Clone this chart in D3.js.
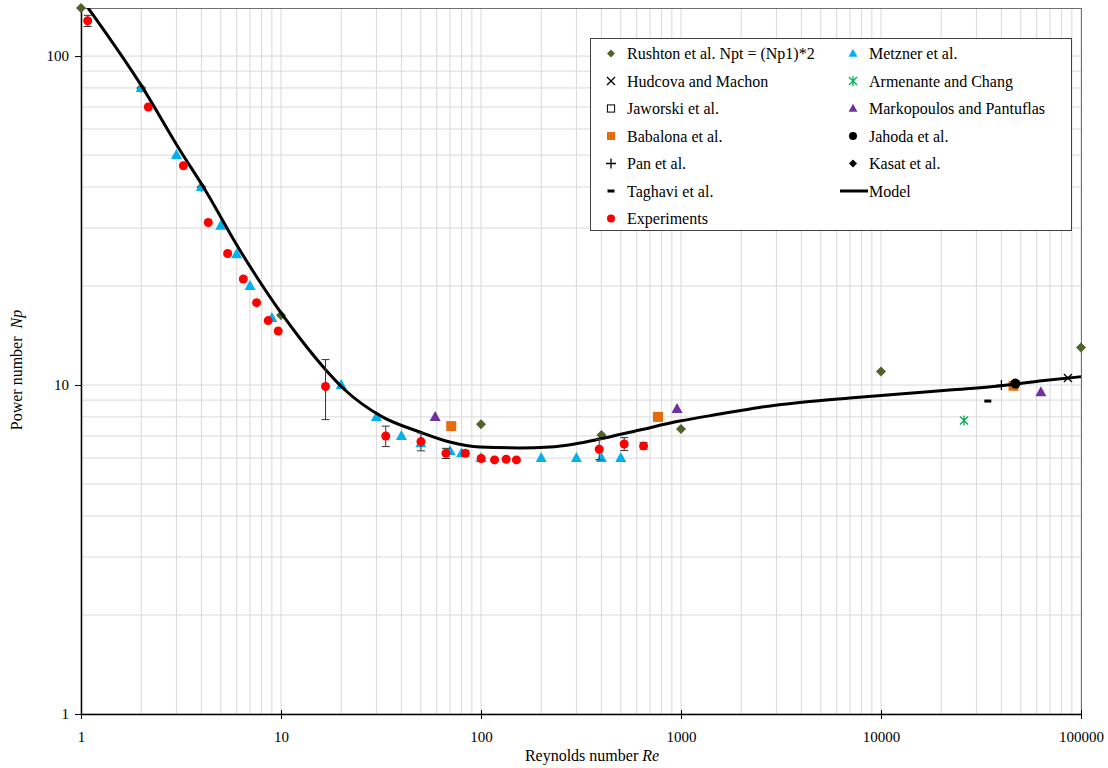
<!DOCTYPE html>
<html><head><meta charset="utf-8">
<script src="https://cdn.jsdelivr.net/npm/d3@7"></script>
<style>
body{margin:0;background:#fff;}
svg text{font-family:"Liberation Serif","Times New Roman","DejaVu Serif",serif;fill:#000;}
</style></head>
<body><svg id="c" width="1108" height="768"></svg>
<script>
// ---- data ----
const rushtonRe = [1, 2, 4, 10, 100, 400, 1000, 10000, 100000];
const rushtonNp = [140, 80, 40, 16.3, 7.6, 7.05, 7.35, 11, 13];
const metznerRe = [2, 3, 4, 5, 6, 7, 9, 20, 30, 40, 50, 70, 80, 100, 200, 300, 400, 500];
const metznerNp = [80, 50, 40, 30.5, 25, 20, 16, 10, 8, 7, 6.65, 6.3, 6.2, 6, 6, 6, 6, 6];
const hudcovaRe = [86000];
const hudcovaNp = [10.5];
const armenanteRe = [26000];
const armenanteNp = [7.8];
const jaworskiRe = [];
const jaworskiNp = [];
const markopoulosRe = [59, 955, 63000];
const markopoulosNp = [8, 8.45, 9.5];
const babalonaRe = [71, 767, 46000];
const babalonaNp = [7.5, 8, 9.95];
const jahodaRe = [47000];
const jahodaNp = [10.1];
const panRe = [40000];
const panNp = [10];
const kasatRe = [];
const kasatNp = [];
const taghaviRe = [34200];
const taghaviNp = [8.94];
const modelRe = [1, 2.04, 3.12, 4.12, 6.23, 10.2, 12.4, 16.8, 20.9, 32.3, 49.4, 69.8, 98.6, 156, 221, 294, 392, 622, 985, 1560, 2470, 3920, 6970, 12400, 22000, 39100, 62000, 100000];
const modelNp = [150, 79.9, 51.8, 39.7, 25.7, 16.3, 13.9, 11.1, 9.66, 7.99, 7.2, 6.71, 6.48, 6.44, 6.48, 6.62, 6.85, 7.3, 7.77, 8.16, 8.55, 8.85, 9.13, 9.39, 9.66, 9.93, 10.28, 10.6];
const expRe = [1.08, 2.17, 3.25, 4.33, 5.41, 6.48, 7.55, 8.63, 9.68, 16.7, 33.4, 50.1, 66.8, 83.5, 100.2, 116.9, 133.6, 150.3, 390, 520, 650];
const expNp = [128, 70, 46.4, 31.2, 25.1, 21, 17.8, 15.7, 14.6, 9.9, 7.0, 6.73, 6.2, 6.2, 5.98, 5.92, 5.95, 5.92, 6.38, 6.62, 6.53];
const expErr = [5, 0, 0, 0, 0, 0, 0, 0, 0, 2.05, 0.5, 0.42, 0.22, 0.12, 0, 0, 0, 0, 0.45, 0.3, 0.15];
const xTickLabels = ["1", "10", "100", "1000", "10000", "100000"];
const yTickLabels = ["1", "10", "100"];
const legendNames = ["Rushton et al. Npt = (Np1)*2", "Metzner et al.", "Hudcova and Machon", "Armenante and Chang",
  "Jaworski et al.", "Markopoulos and Pantuflas", "Babalona et al.", "Jahoda et al.", "Pan et al.", "Kasat et al.",
  "Taghavi et al.", "Model", "Experiments"];

// ---- chart ----
const FONT = "'Liberation Serif', 'Times New Roman', 'DejaVu Serif', serif";
const svg = d3.select("#c");
const L = 81, R = 1081, T = 8, B = 714;
const x = d3.scaleLog().domain([1, 1e5]).range([L, R]);
const y = d3.scaleLog().domain([1, 140]).range([B, T]);

const xGrid = [], yGrid = [];
for (let d = 1; d < 1e5; d *= 10) for (let k = 1; k <= 9; k++) xGrid.push(k * d);
xGrid.push(1e5);
for (let d = 1; d < 100; d *= 10) for (let k = 1; k <= 9; k++) yGrid.push(k * d);
yGrid.push(100);

const g = svg.append("g");
g.selectAll(".gx").data(xGrid).join("line")
  .attr("x1", d => x(d)).attr("x2", d => x(d)).attr("y1", T).attr("y2", B)
  .attr("stroke", "#d9d9d9").attr("stroke-width", 1);
g.selectAll(".gy").data(yGrid).join("line")
  .attr("x1", L).attr("x2", R).attr("y1", d => y(d)).attr("y2", d => y(d))
  .attr("stroke", "#d9d9d9").attr("stroke-width", 1);

// plot border top/right
g.append("line").attr("x1", L).attr("x2", R).attr("y1", T + 0.5).attr("y2", T + 0.5).attr("stroke", "#6f6f6f");
g.append("line").attr("x1", R + 0.5).attr("x2", R + 0.5).attr("y1", T).attr("y2", B).attr("stroke", "#6f6f6f");

// axes
const xAxis = d3.axisBottom(x).tickValues([1, 10, 100, 1000, 1e4, 1e5])
  .tickFormat((d, i) => xTickLabels[i]).tickSizeInner(5).tickSizeOuter(0).tickPadding(12);
const yAxis = d3.axisLeft(y).tickValues([1, 10, 100])
  .tickFormat((d, i) => yTickLabels[i]).tickSizeInner(6).tickSizeOuter(0).tickPadding(6);
const gx = svg.append("g").attr("transform", `translate(0,${B})`).call(xAxis);
const gy = svg.append("g").attr("transform", `translate(${L},0)`).call(yAxis);
[gx, gy].forEach(a => {
  a.attr("font-family", FONT);
  a.select(".domain").attr("stroke", "#000").attr("stroke-width", 1.5);
  a.selectAll(".tick line").attr("stroke", "#000");
  a.selectAll(".tick text").attr("font-family", FONT).attr("font-size", 15).attr("fill", "#000");
});
gx.selectAll(".tick line").attr("y1", -4);

// titles
const xt = svg.append("text").attr("x", 592).attr("y", 761).attr("text-anchor", "middle")
  .attr("font-family", FONT).attr("font-size", 16);
xt.append("tspan").text("Reynolds number ");
xt.append("tspan").attr("font-style", "italic").text("Re");
const yt = svg.append("text").attr("transform", "translate(22,370) rotate(-90)").attr("text-anchor", "middle")
  .attr("font-family", FONT).attr("font-size", 16);
yt.append("tspan").text("Power number\u00a0\u00a0");
yt.append("tspan").attr("font-style", "italic").text("Np");

// markers
function marker(sel, type, color, s) {
  s = s || 1;
  if (type === "diamond") sel.append("path").attr("d", `M0,${-5*s}L${5*s},0L0,${5*s}L${-5*s},0Z`).attr("fill", color);
  else if (type === "triangle") sel.append("path").attr("d", `M0,${-6*s}L${5.5*s},${4*s}L${-5.5*s},${4*s}Z`).attr("fill", color);
  else if (type === "circle") sel.append("circle").attr("r", 5 * s).attr("fill", color);
  else if (type === "square") sel.append("rect").attr("x", -5*s).attr("y", -5*s).attr("width", 10*s).attr("height", 10*s).attr("fill", color);
  else if (type === "osquare") sel.append("rect").attr("x", -4.5*s).attr("y", -4.5*s).attr("width", 9*s).attr("height", 9*s).attr("fill", "#fff").attr("stroke", color);
  else if (type === "x") sel.append("path").attr("d", `M-4,-4L4,4M-4,4L4,-4`).attr("stroke", color).attr("stroke-width", 1.3);
  else if (type === "plus") sel.append("path").attr("d", `M-5,0L5,0M0,-5L0,5`).attr("stroke", color).attr("stroke-width", 1.3);
  else if (type === "dash") sel.append("rect").attr("x", -3.5).attr("y", -1.5).attr("width", 7).attr("height", 3).attr("fill", color);
  else if (type === "star") sel.append("path").attr("d", `M-4,-4L4,4M-4,4L4,-4M0,-5L0,5`).attr("stroke", color).attr("stroke-width", 1.3);
}

const series = [
  {re: rushtonRe, np: rushtonNp, type: "diamond", color: "#4f6228"},
  {re: metznerRe, np: metznerNp, type: "triangle", color: "#00b0f0"},
  {re: hudcovaRe, np: hudcovaNp, type: "x", color: "#000"},
  {re: armenanteRe, np: armenanteNp, type: "star", color: "#00b050"},
  {re: jaworskiRe, np: jaworskiNp, type: "osquare", color: "#000"},
  {re: markopoulosRe, np: markopoulosNp, type: "triangle", color: "#7030a0"},
  {re: babalonaRe, np: babalonaNp, type: "square", color: "#e46c0a"},
  {re: jahodaRe, np: jahodaNp, type: "circle", color: "#000"},
  {re: panRe, np: panNp, type: "plus", color: "#000"},
  {re: kasatRe, np: kasatNp, type: "diamond", color: "#000"},
  {re: taghaviRe, np: taghaviNp, type: "dash", color: "#000"}
];

svg.append("defs").append("clipPath").attr("id", "clip").append("rect")
  .attr("x", L).attr("y", T).attr("width", R - L + 1).attr("height", B - T);

series.forEach(s => {
  s.re.forEach((r, i) => {
    const m = svg.append("g").attr("transform", `translate(${x(r)},${y(s.np[i])})`);
    marker(m, s.type, s.color);
  });
});

// model line
const line = d3.line().x(d => x(d[0])).y(d => y(d[1])).curve(d3.curveMonotoneX);
svg.append("path").datum(modelRe.map((r, i) => [r, modelNp[i]]))
  .attr("d", line).attr("fill", "none").attr("stroke", "#000").attr("stroke-width", 3)
  .attr("clip-path", "url(#clip)");

// experiments with error bars
expRe.forEach((r, i) => {
  if (expErr[i] > 0) {
    const cx = x(r), y1 = y(expNp[i] + expErr[i]), y2 = y(expNp[i] - expErr[i]);
    svg.append("line").attr("x1", cx).attr("x2", cx).attr("y1", y1).attr("y2", y2).attr("stroke", "#333").attr("stroke-width", 1);
    svg.append("line").attr("x1", cx - 4).attr("x2", cx + 4).attr("y1", y1).attr("y2", y1).attr("stroke", "#333").attr("stroke-width", 1);
    svg.append("line").attr("x1", cx - 4).attr("x2", cx + 4).attr("y1", y2).attr("y2", y2).attr("stroke", "#333").attr("stroke-width", 1);
  }
});
expRe.forEach((r, i) => {
  svg.append("circle").attr("cx", x(r)).attr("cy", y(expNp[i])).attr("r", 4.5).attr("fill", "#ff0000");
});

// legend
const lg = svg.append("g");
lg.append("rect").attr("x", 590.5).attr("y", 38.5).attr("width", 481).attr("height", 192)
  .attr("fill", "#fff").attr("stroke", "#404040").attr("stroke-width", 1);
const legendItems = series.map((s, i) => ({name: legendNames[i], type: s.type, color: s.color}));
legendItems.push({name: legendNames[11], type: "line", color: "#000"});
legendItems.push({name: legendNames[12], type: "expcircle", color: "#ff0000"});
legendItems.forEach((it, i) => {
  const col = i % 2, row = Math.floor(i / 2);
  const mx = col === 0 ? 611 : 853, tx = col === 0 ? 627 : 869;
  const yy = 53.5 + row * 27.5;
  if (it.type === "line") {
    lg.append("line").attr("x1", 840).attr("x2", 868).attr("y1", yy).attr("y2", yy).attr("stroke", "#000").attr("stroke-width", 3);
  } else if (it.type === "expcircle") {
    lg.append("circle").attr("cx", mx).attr("cy", yy).attr("r", 4).attr("fill", it.color);
  } else {
    marker(lg.append("g").attr("transform", `translate(${mx},${yy})`), it.type, it.color, 0.8);
  }
  lg.append("text").attr("x", tx).attr("y", yy + 5.5).attr("font-family", FONT).attr("font-size", 16).text(it.name);
});
</script></body></html>
